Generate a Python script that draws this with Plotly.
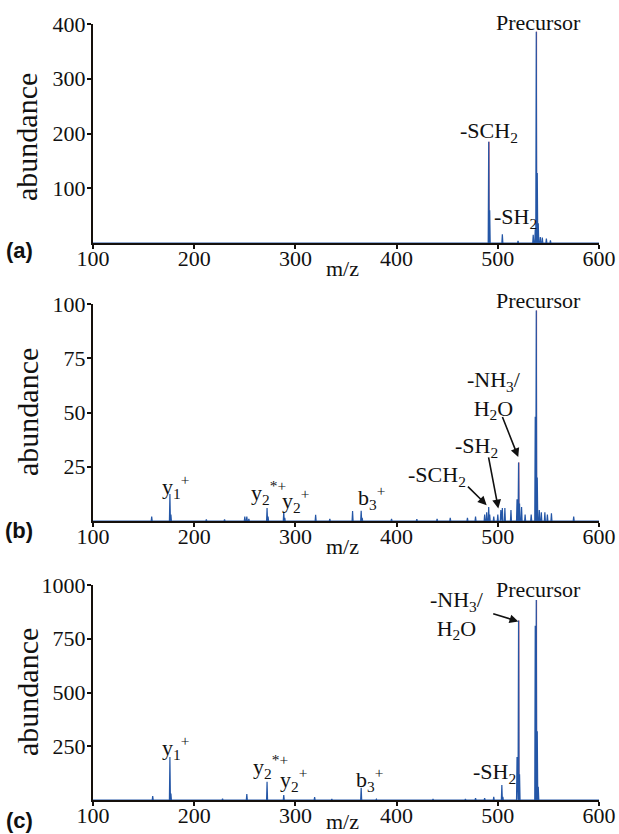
import plotly.graph_objects as go

# ---------------- data ----------------
mz_a = [491, 492, 504.5, 520, 535, 537, 538, 539, 540, 542, 544, 548, 552]
ab_a = [185, 60, 16, 4, 15, 25, 386, 128, 36, 11, 10, 8, 5]

mz_b = [158, 176, 177, 212, 230, 250, 252, 254, 272, 273, 288.5, 289.5, 320, 334,
        356.5, 365, 366, 395, 420, 440, 453, 470, 478, 487, 489, 491, 492, 496,
        500, 503, 504.5, 507, 513, 519, 520.5, 521.5, 523.5, 527, 533, 537, 538,
        539, 541, 543, 546.5, 549, 553, 575]
ab_b = [2, 12.4, 3, 0.7, 0.7, 2, 2, 1, 6, 2, 4.3, 1.5, 2.8, 1,
        4.6, 4.7, 1.5, 1, 0.8, 1, 1.5, 1.5, 2, 3, 4, 6.5, 3, 2,
        3, 5, 6, 6, 5, 10, 27, 8, 6.5, 3, 3, 48, 97,
        20, 5, 4, 4, 3, 3.5, 2]

mz_c = [159, 176, 177, 228, 252, 272, 288.5, 319, 336, 365, 380, 436, 468, 478,
        487, 496, 504, 505, 519, 520.5, 521.5, 537, 538, 539, 540]
ab_c = [18, 200, 30, 6, 28, 85, 23, 14, 5, 57, 4, 5, 5, 8,
        8, 15, 70, 15, 200, 835, 120, 810, 930, 320, 62]

# highlighted (red) peaks
hi_a_mz, hi_a_ab = [491, 538], [185, 386]
hi_b_mz, hi_b_ab = [520.5, 538], [27, 97]
hi_c_mz, hi_c_ab = [520.5, 538], [835, 930]

x_ticks = [100, 200, 300, 400, 500, 600]
y_ticks_a = [100, 200, 300, 400]
y_ticks_b = [25, 50, 75, 100]
y_ticks_c = [250, 500, 750, 1000]
y_ranges = [[0, 400], [0, 100], [0, 1000]]

BLUE = "#2456a6"
RED = "#d2364e"
SERIF = "Liberation Serif, Times New Roman, serif"
HW = 0.5  # half width of a profile peak (m/z)


def profile(mzs, abs_):
    pairs = sorted(zip(mzs, abs_))
    xs, ys = [100], [0]
    for m, a in pairs:
        xs += [m - HW, m, m + HW]
        ys += [0, a, 0]
    xs.append(600)
    ys.append(0)
    return xs, ys


def sticks(mzs, abs_):
    xs, ys = [], []
    for m, a in zip(mzs, abs_):
        xs += [m + 0.35, m + 0.35, None]
        ys += [0, a, None]
    return xs, ys


fig = go.Figure()
panels = [(mz_a, ab_a, hi_a_mz, hi_a_ab), (mz_b, ab_b, hi_b_mz, hi_b_ab),
          (mz_c, ab_c, hi_c_mz, hi_c_ab)]
for i, (m, a, hm, ha) in enumerate(panels):
    sx = "x" if i == 0 else f"x{i+1}"
    sy = "y" if i == 0 else f"y{i+1}"
    rx, ry = sticks(hm, ha)
    fig.add_trace(go.Scatter(x=rx, y=ry, mode="lines", line=dict(color=RED, width=1),
                             xaxis=sx, yaxis=sy, showlegend=False, hoverinfo="skip"))
    px, py = profile(m, a)
    fig.add_trace(go.Scatter(x=px, y=py, mode="lines", line=dict(color=BLUE, width=1.2),
                             xaxis=sx, yaxis=sy, showlegend=False))

W, H = 619, 834
xdom = [93 / W, 599 / W]
ydoms = [[1 - 243 / H, 1 - 24 / H], [1 - 521 / H, 1 - 304 / H], [1 - 800 / H, 1 - 585 / H]]
ytv = [y_ticks_a, y_ticks_b, y_ticks_c]


def axis_style():
    return dict(showline=True, linecolor="#15100c", linewidth=2, ticks="outside",
                ticklen=4, tickwidth=1.5, tickcolor="#15100c", showgrid=False,
                zeroline=False, automargin=False,
                tickfont=dict(family=SERIF, size=22, color="#111"))


layout = dict(width=W, height=H, margin=dict(l=0, r=0, t=0, b=0, autoexpand=False),
              paper_bgcolor="white", plot_bgcolor="white",
              font=dict(family=SERIF, size=22, color="#111"))
for i in range(3):
    xk = "xaxis" if i == 0 else f"xaxis{i+1}"
    yk = "yaxis" if i == 0 else f"yaxis{i+1}"
    xa = "x" if i == 0 else f"x{i+1}"
    ya = "y" if i == 0 else f"y{i+1}"
    layout[xk] = dict(axis_style(), domain=xdom, range=[100, 600], tickvals=x_ticks,
                      anchor=ya, ticklabelstandoff=-9)
    layout[yk] = dict(axis_style(), domain=ydoms[i], range=y_ranges[i], tickvals=ytv[i],
                      anchor=xa, ticklabelstandoff=-3)

fig.update_layout(**layout)

ann = []


def txt(text, x, y, xr, yr, size=22, family=SERIF, **kw):
    ann.append(dict(text=text, x=x, y=y, xref=xr, yref=yr, showarrow=False,
                    xanchor="center", yanchor="middle",
                    font=dict(family=family, size=size, color="#111"), **kw))


def arrow(x, y, ax, ay, xr, yr):
    ann.append(dict(text="", x=x, y=y, ax=ax, ay=ay, xref=xr, yref=yr, axref=xr, ayref=yr,
                    showarrow=True, arrowhead=2, arrowsize=1.1, arrowwidth=1.6,
                    arrowcolor="#111", standoff=0))

# panel a
txt("Precursor", 540.7, 1.009, "x", "y domain")
txt("-SCH<sub>2</sub>", 491.3, 203, "x", "y")
txt("-SH<sub>2</sub>", 517, 46, "x", "y")
# panel b
txt("Precursor", 540.7, 1.018, "x2", "y2 domain")
txt("-NH<sub>3</sub>/<br>H<sub>2</sub>O", 496, 58, "x2", "y2")
txt("-SH<sub>2</sub>", 478.5, 34, "x2", "y2")
txt("-SCH<sub>2</sub>", 440, 20.6, "x2", "y2")
txt("y<sub>1</sub><sup>+</sup>", 182, 16, "x2", "y2")
txt("y<sub>2</sub><sup>*+</sup>", 273, 13.3, "x2", "y2")
txt("y<sub>2</sub><sup>+</sup>", 299.6, 9.6, "x2", "y2")
txt("b<sub>3</sub><sup>+</sup>", 374.7, 11, "x2", "y2")
arrow(520.2, 29.5, 504, 48.6, "x2", "y2")
arrow(500.5, 5.8, 490.6, 30, "x2", "y2")
arrow(489, 7.3, 469, 16.5, "x2", "y2")
# panel c
txt("Precursor", 540.7, 978, "x3", "y3")
txt("-NH<sub>3</sub>/<br>H<sub>2</sub>O", 460, 862, "x3", "y3")
txt("-SH<sub>2</sub>", 497, 125, "x3", "y3")
txt("y<sub>1</sub><sup>+</sup>", 182, 245, "x3", "y3")
txt("y<sub>2</sub><sup>*+</sup>", 275, 157, "x3", "y3")
txt("y<sub>2</sub><sup>+</sup>", 298.6, 97, "x3", "y3")
txt("b<sub>3</sub><sup>+</sup>", 373.7, 97, "x3", "y3")
arrow(520.3, 830, 494, 869, "x3", "y3")

# axis titles & panel labels
for i, (yc, mzy) in enumerate([(137, 268), (412, 546), (692, 821)]):
    txt("abundance", 27 / W, 1 - yc / H, "paper", "paper", size=30, textangle=-90)
    txt("m/z", 342 / W, 1 - mzy / H, "paper", "paper")
for lab, yc in [("(a)", 250), ("(b)", 530), ("(c)", 820)]:
    txt("<b>" + lab + "</b>", 19 / W, 1 - yc / H, "paper", "paper", size=22,
        family="Liberation Sans, Arial, sans-serif")

fig.update_layout(annotations=ann)
fig.write_html("out.html", config={"displayModeBar": False},
               post_script="document.body.style.margin='0';"
                           "document.body.style.overflow='hidden';")
